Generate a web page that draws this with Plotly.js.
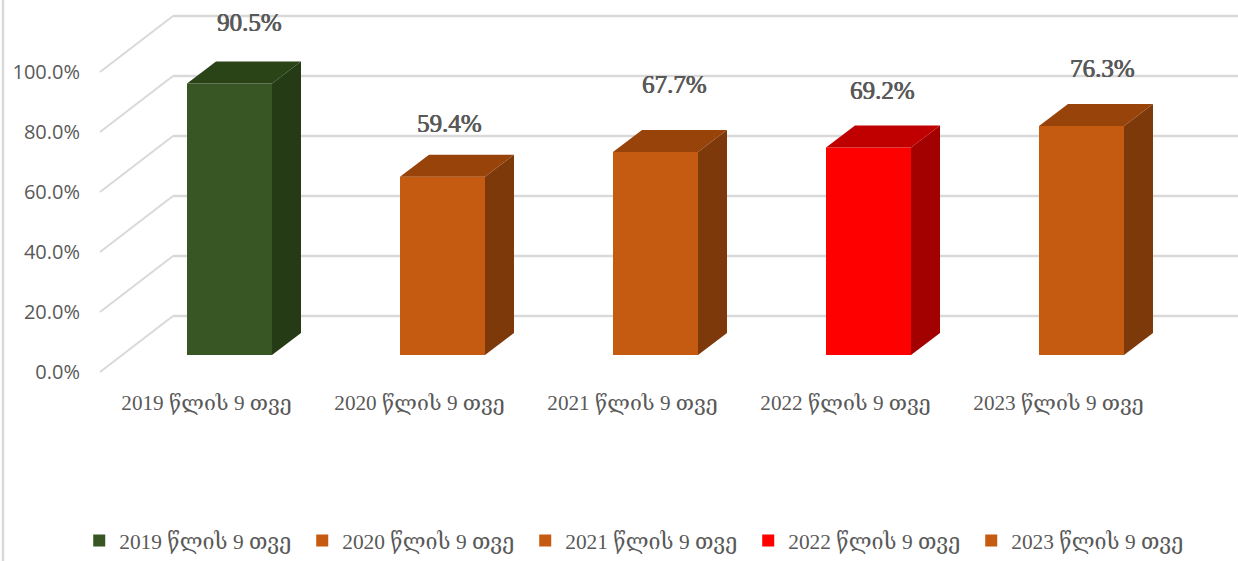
<!DOCTYPE html>
<html>
<head>
<meta charset="utf-8">
<script src="https://cdn.plot.ly/plotly-3.0.1.min.js"></script>
<style>html,body{margin:0;padding:0;background:#fff}#chart{width:1238px;height:561px}</style>
</head>
<body>
<div id="chart"></div>
<script>
const categories = ["2019 წლის 9 თვე","2020 წლის 9 თვე","2021 წლის 9 თვე","2022 წლის 9 თვე","2023 წლის 9 თვე"];
const values = [90.5, 59.4, 67.7, 69.2, 76.3];
const axisTicks = [0, 20, 40, 60, 80, 100];
const axisTickLabels = ["0.0%","20.0%","40.0%","60.0%","80.0%","100.0%"];

const frontColors = ["#375623","#C55A11","#C55A11","#FF0000","#C55A11"];
const topColors   = ["#2A4317","#974309","#974309","#C00000","#974309"];
const sideColors  = ["#253B15","#7E390A","#7E390A","#A30000","#7E390A"];
const labelShiftX = [19.5, 6.5, 18.5, 13.5, 20.5];
const labelShiftY = [61.5, 53, 67, 57, 58];

const W = 1238, H = 561, ML = 84, MB = 176, PLOTB = H - MB;
const PXX = 213, PXY = 3;                 // pixels per category / per percent
const xOf = p => (p - 229.5) / PXX;
const barW = 85 / PXX;
const floorLift = 17 / PXY;               // bars stand in front of the wall
const depthX = 29 / PXX, depthY = 22 / PXY;
const wallX0 = xOf(100), wallX1 = xOf(173), wallLift = 56 / PXY, rightX = xOf(W);
const gridColor = "#D9D9D9";
const serif = '"Liberation Serif","DejaVu Serif",serif';
const sans = '"Open Sans","DejaVu Sans",sans-serif';

const traces = [];
categories.forEach((c, i) => {
  traces.push({type:"bar", name:c, x:[i], y:[values[i]], base:[floorLift], width:barW,
    marker:{color:frontColors[i], line:{width:0}}, hovertemplate:c+": %{y}%<extra></extra>"});
});
categories.forEach((c, i) => {
  const l = i - barW/2, r = i + barW/2, b = floorLift, t = floorLift + values[i];
  traces.push({type:"scatter", mode:"lines", fill:"toself", fillcolor:sideColors[i], line:{width:0},
    x:[r, r+depthX, r+depthX, r, r], y:[b, b+depthY, t+depthY, t, b], showlegend:false, hoverinfo:"skip"});
  traces.push({type:"scatter", mode:"lines", fill:"toself", fillcolor:topColors[i], line:{width:0},
    x:[l, r, r+depthX, l+depthX, l], y:[t, t, t+depthY, t+depthY, t], showlegend:false, hoverinfo:"skip"});
});

const shapes = [];
axisTicks.forEach(v => {
  shapes.push({type:"line", layer:"below", xref:"x", yref:"y", x0:wallX0, y0:v, x1:wallX1, y1:v+wallLift,
    line:{color:gridColor, width:2}});
  shapes.push({type:"line", layer:"below", xref:"x", yref:"y", x0:wallX1, y0:v+wallLift, x1:rightX, y1:v+wallLift,
    line:{color:gridColor, width:2.5}});
});
shapes.push({type:"line", layer:"below", xref:"paper", yref:"paper",
  x0:(3-ML)/(W-ML), x1:(3-ML)/(W-ML), y0:-MB/PLOTB, y1:1, line:{color:"#D9D9D9", width:2.5}});

const annotations = categories.map((c, i) => ({
  xref:"x", yref:"y", x:i, y:floorLift + values[i], text:values[i].toFixed(1)+"%", showarrow:false,
  xshift:labelShiftX[i], yshift:labelShiftY[i],
  font:{family:serif, size:25, color:"#595959", shadow:"0.5px 0 0 #595959, -0.3px 0 0 #595959"}
}));

const layout = {
  width:W, height:H, margin:{l:ML, r:0, t:0, b:MB}, paper_bgcolor:"#fff", plot_bgcolor:"rgba(0,0,0,0)",
  barmode:"overlay", showlegend:true, hovermode:"closest",
  xaxis:{type:"linear", range:[xOf(ML), rightX], tickmode:"array", tickvals:categories.map((c,i)=>i-23/PXX),
    ticktext:categories, showgrid:false, zeroline:false, showline:false, ticks:"", ticklabelstandoff:3,
    tickfont:{family:serif, size:21.2, color:"#595959"}},
  yaxis:{range:[-(PLOTB-372)/PXY, 372/PXY], tickmode:"array", tickvals:axisTicks, ticktext:axisTickLabels,
    showgrid:false, zeroline:false, showline:false, ticks:"", ticklabelstandoff:3,
    tickfont:{family:sans, size:20, color:"#595959"}},
  legend:{orientation:"h", xref:"container", yref:"container", x:0.064, xanchor:"left", y:-0.006, yanchor:"bottom",
    entrywidth:178, entrywidthmode:"pixels", traceorder:"normal", font:{family:serif, size:21.4, color:"#595959"}, bgcolor:"rgba(0,0,0,0)"},
  shapes, annotations
};
Plotly.newPlot("chart", traces, layout, {displayModeBar:false, responsive:false});
</script>
</body>
</html>
